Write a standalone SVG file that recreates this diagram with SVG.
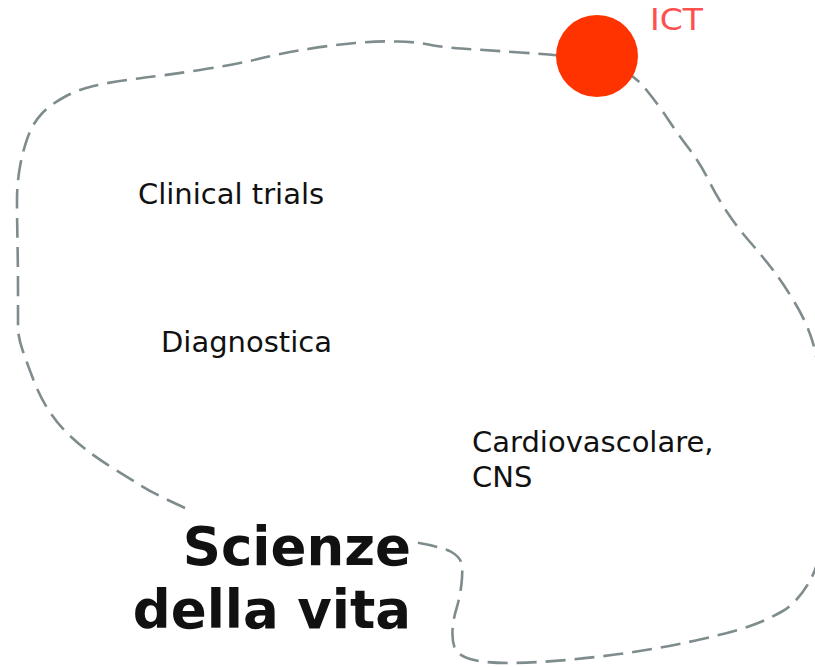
<svg xmlns="http://www.w3.org/2000/svg" width="815" height="667" viewBox="0 0 815 667">
<style>
.lbl{font-family:"DejaVu Sans","Noto Sans",sans-serif;font-size:29px;fill:#111}
.big{font-family:"DejaVu Sans","Noto Sans",sans-serif;font-size:53px;font-weight:bold;fill:#111;text-anchor:end}
.ict{font-family:"DejaVu Sans","Noto Sans",sans-serif;font-size:30px;fill:#ff5050}
.outline{fill:none;stroke:#7f8c8d;stroke-width:2.6;stroke-dasharray:20 9}
</style>
<rect width="815" height="667" fill="#fff"/>
<g id="connectors">
<path class="outline" d="M185,508 L169,500.5 Q153,493 140,485 Q127,477 113.5,468.5 Q100,460 88.5,451.5 Q77,443 67,433 Q57,423 48.5,410 Q40,397 33.5,380 Q27,363 22.5,350 Q18,337 18,327 Q18,317 18,292 Q18,267 17.5,242 Q17,217 17,200 Q17,183 20,166.5 Q23,150 28,136.5 Q33,123 41.5,114 Q50,105 63.5,97.5 Q77,90 93.5,86 Q110,82 138.5,78.5 Q167,75 200,70 Q233,65 258,59 Q283,53 308,49 Q333,45 355,43 Q377,41 397,41.5 Q417,42 428.5,44.5 Q440,47 461.5,48.5 Q483,50 520,52.5 Q557,55 577,57.5 Q597,60 615,66.5 Q633,73 646.5,90 Q660,107 668.5,120 Q677,133 688.5,148 Q700,163 708.5,180 Q717,197 727,212 Q737,227 750,242 Q763,257 773,270 Q783,283 795,303 Q807,323 812.5,341.5 Q818,360 824,410 Q830,460 826,510 Q822,560 809.5,581.5 Q797,603 782,611.5 Q767,620 750,626 Q733,632 700,639.5 Q667,647 633.5,652 Q600,657 566.5,660 Q533,663 508,663 Q483,663 470,659 Q457,655 454.5,647.5 Q452,640 452.5,630 Q453,620 456.5,608.5 Q460,597 461.5,583.5 Q463,570 461.5,563.5 Q460,557 451.5,552 Q443,547 413,542"/>
</g>
<g id="ict">
<circle cx="597" cy="56" r="41" fill="#ff3300"/>
<text class="ict" transform="translate(650,30) scale(1.1,1)">ICT</text>
</g>
<g id="clinical-trials">
<text class="lbl" x="138" y="204">Clinical trials</text>
</g>
<g id="diagnostica">
<text class="lbl" x="161" y="352">Diagnostica</text>
</g>
<g id="cardiovascolare">
<text class="lbl"><tspan x="472" y="452">Cardiovascolare,</tspan><tspan x="472" y="487">CNS</tspan></text>
</g>
<g id="scienze-della-vita">
<text class="big"><tspan x="411" y="565">Scienze</tspan><tspan x="411" y="628">della vita</tspan></text>
</g>
</svg>
